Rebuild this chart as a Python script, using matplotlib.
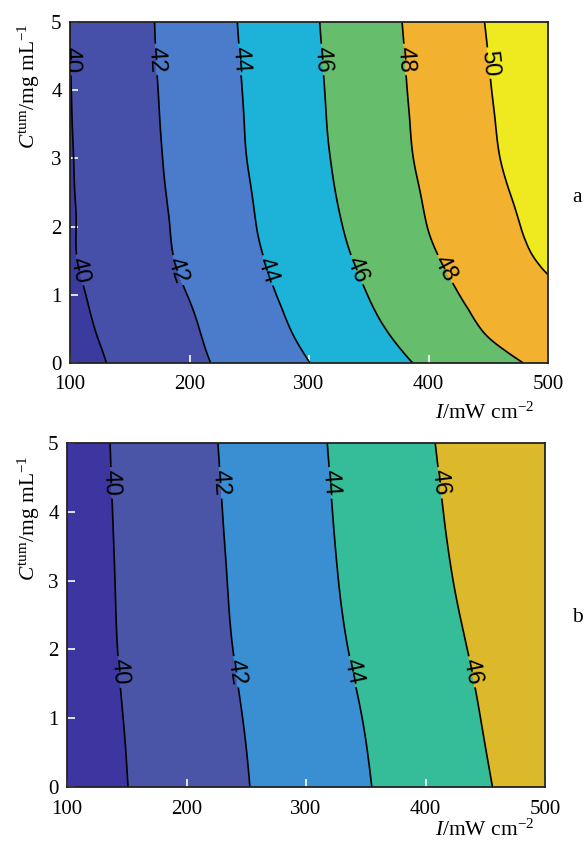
import numpy as np
import matplotlib
matplotlib.use("Agg")
import matplotlib.pyplot as plt
import matplotlib.tri as mtri
from matplotlib.colors import ListedColormap, BoundaryNorm

# ---------------- data ----------------
I_vals = [100, 150, 200, 250, 300, 350, 400, 450, 500]

# panel a
Ca_vals = [0, 0.25, 0.5, 1, 1.5, 2, 2.5, 3, 3.5, 4, 4.5, 5]
Za = [
    [39.29, 40.44, 41.59, 42.77, 43.98, 45.15, 46.30, 47.38, 48.44],  # C=0
    [39.40, 40.55, 41.70, 42.94, 44.20, 45.41, 46.62, 47.81, 48.82],  # C=0.25
    [39.52, 40.66, 41.80, 43.09, 44.40, 45.65, 46.91, 48.14, 49.12],  # C=0.5
    [39.67, 40.86, 42.05, 43.39, 44.71, 46.03, 47.36, 48.55, 49.62],  # C=1
    [39.85, 41.07, 42.32, 43.65, 45.00, 46.36, 47.73, 49.00, 50.25],  # C=1.5
    [39.87, 41.14, 42.44, 43.83, 45.22, 46.62, 48.03, 49.31, 50.59],  # C=2
    [39.90, 41.19, 42.54, 43.94, 45.37, 46.79, 48.19, 49.52, 50.85],  # C=2.5
    [39.92, 41.25, 42.63, 44.06, 45.49, 46.93, 48.36, 49.73, 51.10],  # C=3
    [39.95, 41.30, 42.69, 44.12, 45.57, 47.01, 48.44, 49.83, 51.22],  # C=3.5
    [39.97, 41.34, 42.74, 44.17, 45.62, 47.07, 48.51, 49.92, 51.32],  # C=4
    [39.99, 41.38, 42.80, 44.23, 45.68, 47.13, 48.57, 50.00, 51.43],  # C=4.5
    [40.00, 41.41, 42.84, 44.29, 45.74, 47.19, 48.64, 50.09, 51.54],  # C=5
]
levels_a = [38, 40, 42, 44, 46, 48, 50, 52]
colors_a = ["#3b3a9e", "#4650a8", "#4a7ccb", "#1db3d8", "#66bd6c", "#f2b12f", "#eeea1f"]

# panel b
Cb_vals = [0, 1, 2, 3, 4, 5]
Zb = [
    [39.00, 39.98, 40.96, 41.94, 42.92, 43.90, 44.89, 45.88, 46.87],  # C=0
    [39.06, 40.06, 41.06, 42.06, 43.06, 44.06, 45.07, 46.08, 47.09],  # C=1
    [39.13, 40.16, 41.20, 42.23, 43.27, 44.30, 45.30, 46.30, 47.30],  # C=2
    [39.15, 40.21, 41.28, 42.34, 43.42, 44.48, 45.52, 46.56, 47.60],  # C=3
    [39.17, 40.26, 41.35, 42.43, 43.52, 44.60, 45.68, 46.75, 47.83],  # C=4
    [39.20, 40.31, 41.42, 42.52, 43.61, 44.71, 45.82, 46.93, 48.04],  # C=5
]
levels_b = [38, 40, 42, 44, 46, 50]
colors_b = ["#3d35a0", "#4a55a8", "#3a8fd2", "#35bc98", "#dbb92a"]

labpos_a = [(101, 4.45), (172, 4.45), (242, 4.45), (311, 4.45), (380, 4.45), (452, 4.4),
            (107, 1.36), (190, 1.36), (266, 1.36), (339, 1.36), (412, 1.36)]
labpos_b = [(136, 4.42), (227, 4.42), (320, 4.42), (411, 4.42),
            (143, 1.67), (240, 1.67), (337, 1.67), (438, 1.67)]

xticks = [100, 200, 300, 400, 500]
yticks = [0, 1, 2, 3, 4, 5]

# ---------------- figure ----------------
plt.rcParams['font.family'] = ['Liberation Serif', 'DejaVu Serif']
plt.rcParams['mathtext.fontset'] = 'custom'
plt.rcParams['mathtext.rm'] = 'Liberation Serif'
plt.rcParams['mathtext.it'] = 'Liberation Serif:italic'

W, H = 584, 849
fig = plt.figure(figsize=(W / 100, H / 100), dpi=100)

def make_axes(l, r, t, b):
    return fig.add_axes([l / W, 1 - b / H, (r - l) / W, (b - t) / H])

panels = [
    dict(box=(70, 548, 22, 363), C=Ca_vals, Z=Za, lev=levels_a, col=colors_a,
         lab=labpos_a, letter="a", letter_y=197, xlab_y=413, ylab_c=86),
    dict(box=(67, 545, 443, 787), C=Cb_vals, Z=Zb, lev=levels_b, col=colors_b,
         lab=labpos_b, letter="b", letter_y=617, xlab_y=830, ylab_c=518),
]

XS = 100.0  # work in I/100 so the grid is nearly isotropic for the smoother

for p in panels:
    l, r, t, b = p["box"]
    ax = make_axes(l, r, t, b)
    X, Y = np.meshgrid(np.array(I_vals, float) / XS, np.array(p["C"], float))
    Z = np.array(p["Z"], float)
    tri = mtri.Triangulation(X.ravel(), Y.ravel())
    interp = mtri.CubicTriInterpolator(tri, Z.ravel(), kind="min_E")
    refiner = mtri.UniformTriRefiner(tri)
    tri_n, z_f = refiner.refine_field(Z.ravel(), triinterpolator=interp, subdiv=4)
    tri_f = mtri.Triangulation(tri_n.x * XS, tri_n.y, tri_n.triangles)
    cmap = ListedColormap(p["col"])
    norm = BoundaryNorm(p["lev"], cmap.N)
    ax.tricontourf(tri_f, z_f, levels=p["lev"], cmap=cmap, norm=norm)
    line_levels = p["lev"][1:-1]
    cs = ax.tricontour(tri_f, z_f, levels=line_levels, colors="black", linewidths=1.2)
    texts = ax.clabel(cs, inline=True, fontsize=17, fmt="%d", manual=p["lab"],
                      inline_spacing=4)
    for txt in texts:
        txt.set_family("Liberation Sans")
    ax.set_xlim(100, 500)
    ax.set_ylim(0, 5)
    ax.set_xticks(xticks)
    ax.set_yticks(yticks)
    ax.tick_params(direction="in", color="white", length=6, width=1.2,
                   labelsize=15, top=False, right=False)
    ax.tick_params(axis="x", pad=9)
    ax.tick_params(axis="y", pad=6)
    for s in ax.spines.values():
        s.set_linewidth(1.3)
        s.set_color("#222222")
    fig.text(485 / W, 1 - p["xlab_y"] / H, r"$I$/mW cm$^{-2}$", ha="center", va="center",
             fontsize=15.5)
    fig.text(29 / W, 1 - p["ylab_c"] / H, r"$C^{\rm tum}$/mg mL$^{-1}$", ha="center",
             va="center", rotation=90, fontsize=15.5)
    fig.text(577 / W, 1 - p["letter_y"] / H, p["letter"], ha="center", va="center",
             fontsize=15.5)

fig.savefig("out.png", dpi=100)
